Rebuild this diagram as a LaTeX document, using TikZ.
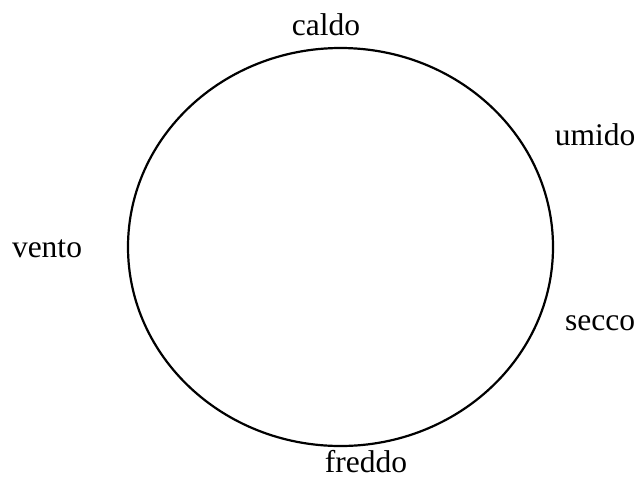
\documentclass[tikz,border=0pt]{standalone}
\usepackage{fontspec}
\setmainfont{Liberation Serif}
\usetikzlibrary{shapes.geometric}

\begin{document}
\begin{tikzpicture}[
  x=0.5pt, y=-0.5pt,
  word/.style={anchor=base, inner sep=0pt, font=\fontsize{15.75}{18}\selectfont},
  ring/.style={draw=black, line width=1.1pt, ellipse, inner sep=0pt}
]
\useasboundingbox (0,0) rectangle (640,477);

\node[ring, minimum width=212.5pt, minimum height=199pt] (wheel) at (340.5,247) {};

\node[word] (caldo) at (326,35) {caldo};
\node[word] (umido) at (595,145) {umido};
\node[word] (vento) at (47,257) {vento};
\node[word] (secco) at (600,330) {secco};
\node[word] (freddo) at (366,472) {freddo};

\end{tikzpicture}
\end{document}
